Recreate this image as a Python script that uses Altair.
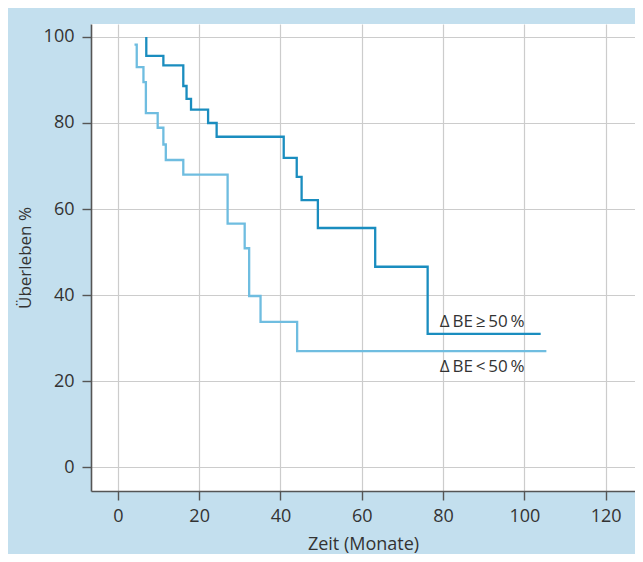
import altair as alt
import pandas as pd

# Kaplan-Meier step data
dark_t = [7.0, 7.0, 11.2, 16.1, 16.9, 18.0, 22.2, 24.3, 40.8, 44.0, 45.2, 49.2, 63.3, 76.2, 104.0]
dark_s = [100.0, 95.6, 93.4, 88.6, 85.6, 83.1, 80.0, 76.8, 71.9, 67.5, 62.1, 55.6, 46.6, 31.0, 31.0]

light_t = [4.1, 4.65, 6.3, 6.9, 9.8, 11.2, 11.8, 16.1, 27.0, 31.2, 32.3, 35.1, 44.1, 105.4]
light_s = [98.2, 93.0, 89.5, 82.3, 78.9, 75.0, 71.4, 68.0, 56.6, 50.9, 39.8, 33.8, 27.0, 27.0]

group_names = ["ΔBE≥50%", "ΔBE<50%"]
label_texts = ["Δ\u2009BE\u2009≥\u200950\u2009%", "Δ\u2009BE\u2009<\u200950\u2009%"]
label_x = [79.2, 79.2]
label_y = [33.8, 23.2]

x_ticks = [0, 20, 40, 60, 80, 100, 120]
y_ticks = [0, 20, 40, 60, 80, 100]

DARK = "#1a8dbf"
LIGHT = "#6fbde0"
BG = "#c3dfee"

rows = []
for i, (t, s) in enumerate(zip(dark_t, dark_s)):
    rows.append({"t": t, "s": s, "g": group_names[0], "i": i})
for i, (t, s) in enumerate(zip(light_t, light_s)):
    rows.append({"t": t, "s": s, "g": group_names[1], "i": i})
df = pd.DataFrame(rows)

lab = pd.DataFrame({"x": label_x, "y": label_y, "text": label_texts})

xs = alt.Scale(domain=[-6.6, 127.2], nice=False, zero=False)
ys = alt.Scale(domain=[-5.5, 103], nice=False, zero=False)

lines = alt.Chart(df).mark_line(interpolate="step-after", strokeWidth=2.3).encode(
    x=alt.X("t:Q", scale=xs, title="Zeit (Monate)",
            axis=alt.Axis(values=x_ticks, format="d")),
    y=alt.Y("s:Q", scale=ys, title="Überleben %",
            axis=alt.Axis(values=y_ticks, format="d")),
    color=alt.Color("g:N", scale=alt.Scale(domain=group_names, range=[DARK, LIGHT]), legend=None),
    order="i:Q",
    detail="g:N",
)

labels = alt.Chart(lab).mark_text(
    align="left", baseline="middle", fontSize=17, font="Open Sans", color="#333333"
).encode(
    x=alt.X("x:Q", scale=xs),
    y=alt.Y("y:Q", scale=ys),
    text="text:N",
)

chart = alt.layer(lines, labels).properties(
    width=544,
    height=467,
    autosize=alt.AutoSizeParams(type="none"),
    padding={"left": 83, "top": 16, "right": 0, "bottom": 63},
    background=BG,
).configure_view(
    fill="white", stroke=None
).configure_axis(
    grid=True,
    gridColor="#cccccc",
    gridWidth=1.2,
    domainColor="#555555",
    domainWidth=1.6,
    tickColor="#555555",
    tickWidth=1.4,
    tickSize=9,
    labelFont="Open Sans",
    labelFontSize=18,
    labelColor="#333333",
    labelPadding=8,
    titleFont="Open Sans",
    titleFontSize=17,
    titleFontWeight="normal",
    titleColor="#333333",
).configure_axisX(
    titlePadding=10,
    titleFontSize=18,
    labelPadding=7,
).configure_axisY(
    titlePadding=9,
)

chart.save("out.html", embed_options={"renderer": "svg", "actions": False})
